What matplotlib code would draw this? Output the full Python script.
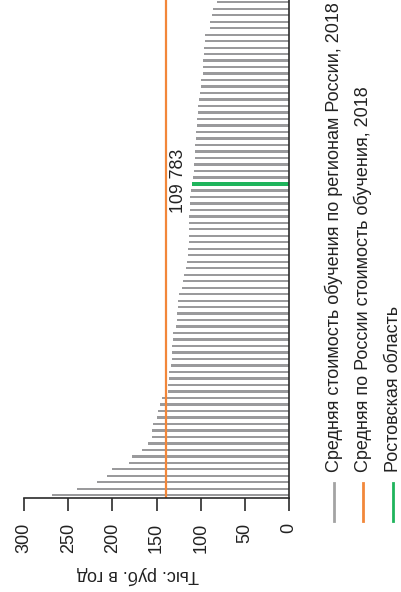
import matplotlib
matplotlib.use("Agg")
import matplotlib.pyplot as plt
import numpy as np

plt.rcParams['font.family'] = ['Liberation Sans', 'DejaVu Sans']

# average cost of study by region, thousand roubles per year (largest first)
costs = [268.7, 239.6, 217.0, 205.7, 200.7, 181.1, 177.4, 166.8, 159.2, 155.1,
         155.1, 154.3, 149.8, 148.7, 146.0, 144.1, 136.6, 136.6, 135.8, 135.5,
         133.2, 132.5, 132.5, 132.1, 130.9, 130.9, 127.9, 127.2, 126.8, 126.0,
         125.3, 124.2, 121.5, 120.4, 118.9, 116.2, 115.2, 114.9, 114.1, 113.7,
         113.4, 113.2, 113.0, 112.8, 112.6, 112.4, 111.6, 110.6, 109.783, 108.5,
         107.5, 107.2, 106.8, 106.4, 106.0, 105.7, 104.9, 104.2, 103.8, 103.4,
         102.6, 101.5, 100.4, 100.0, 99.2, 97.7, 97.0, 97.0, 96.6, 95.8,
         95.1, 94.7, 89.1, 89.1, 87.2, 85.7, 81.2]
rostov = 109.783
russia_avg = 139.6
xticks = [0, 50, 100, 150, 200, 250, 300]
rostov_label = "109 783"
axis_label = "Тыс. руб. в год"
legend_labels = ["Средняя стоимость обучения по регионам России, 2018",
                 "Средняя по России стоимость обучения, 2018",
                 "Ростовская область"]

gray = '#9a9a9c'
orange = '#f2873a'
green = '#1fb45c'
dark = '#2b2b2b'

W, H = 401, 592


def px(x, y):
    return x / W, 1 - y / H


n = len(costs)
pos = np.arange(n)
ri = costs.index(rostov)

fig = plt.figure(figsize=(W / 100, H / 100), dpi=100)
ax = fig.add_axes([24 / W, 94 / H, 265 / W, 498 / H])

ax.barh(pos, costs, height=0.36, color=gray)
ax.barh(ri, rostov, height=0.52, color=green)
ax.vlines(russia_avg, -0.4, n - 1 + 0.4, color=orange, lw=1.6)
ax.annotate(rostov_label, xy=(rostov, ri), xytext=(-3.8, 2),
            textcoords='offset points', rotation=90, ha='right', va='center',
            fontsize=12.8, color='#222222')

ax.set_xlim(300, 0)
ax.set_ylim(-0.42, n - 1 + 0.35)
ax.set_yticks([])
ax.set_xticks(xticks)
ax.set_xticklabels([str(t) for t in xticks])
for s in ['top', 'left']:
    ax.spines[s].set_visible(False)
for s in ['right', 'bottom']:
    ax.spines[s].set_color(dark)
    ax.spines[s].set_linewidth(1.2)
ax.tick_params(axis='x', length=9.4, width=1.2, color=dark, pad=8.6,
               labelrotation=90, labelsize=13, labelcolor='#222222')

fig.text(*px(138, 575), axis_label, rotation=180, ha='center', va='center',
         fontsize=13, color='#222222')

# legend, drawn rotated like the rest of the chart
leg_x = [334, 363, 393]
for x, lab, c in zip(leg_x, legend_labels, ['#a3a3a3', orange, green]):
    fig.add_artist(plt.Line2D([px(x, 0)[0]] * 2, [px(0, 483)[1], px(0, 521)[1]],
                              color=c, lw=2, transform=fig.transFigure))
    fig.text(*px(x, 472), lab, rotation=90, ha='center', va='bottom',
             fontsize=13, color='#222222')

fig.savefig('out.png', dpi=100)
